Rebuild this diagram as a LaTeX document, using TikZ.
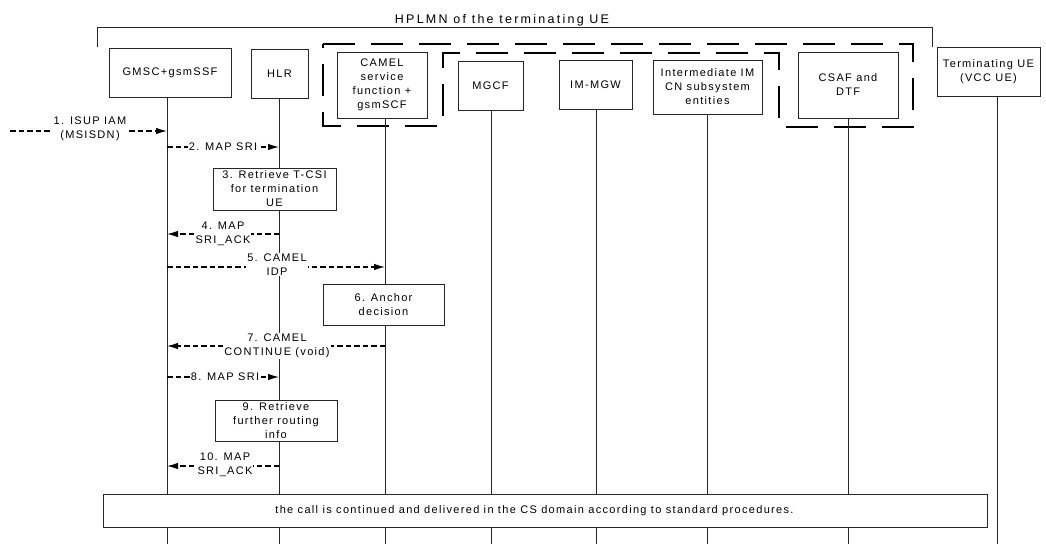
\documentclass[tikz,border=0pt]{standalone}
\usepackage{fontspec}
\setmainfont{Liberation Sans}[LetterSpace=12]
\newfontfamily\hplmnfont{Liberation Sans}[LetterSpace=18]
\usetikzlibrary{arrows.meta}
\begin{document}
\begin{tikzpicture}[x=1pt,y=-1pt,
  every node/.style={font=\fontsize{11}{14}\selectfont, text=black},
  ent/.style={draw=black!85, line width=0.8pt, fill=white, align=center, inner sep=0pt},
  life/.style={draw=black!85, line width=0.8pt},
  msg/.style={draw=black, line width=1.1pt, dash pattern=on 5.5pt off 3pt, -{Latex[length=11pt,width=6.5pt]}},
  lab/.style={fill=white, inner sep=1pt, align=center},
  grp/.style={draw=black, line width=2.7pt, dash pattern=on 32pt off 16pt}]
\useasboundingbox (0,0) rectangle (1046,544);

% lifeline ends
\coordinate (gL) at (167,544);
\coordinate (hL) at (279,544);
\coordinate (cL) at (385,544);
\coordinate (mL) at (491,544);
\coordinate (iL) at (596,544);
\coordinate (nL) at (707,544);
\coordinate (sL) at (848,544);
\coordinate (uL) at (997,544);

% HPLMN bracket
\draw[life] (97,47) -- (97,27.5) -- (932,27.5) -- (932,47);
\node[anchor=base, font=\hplmnfont\fontsize{12.5}{14}\selectfont] (hp) at (502,23) {HPLMN of the terminating UE};

% dashed group outline
\draw[grp] (323,44) -- (913,44) -- (913,127) -- (779,127) -- (779,53) -- (443,53) -- (443,126) -- (323,126) -- cycle;

% entity boxes
\node[ent, minimum width=122pt, minimum height=49pt] (gmsc) at (170,72.5) {GMSC+gsmSSF};
\node[ent, minimum width=57pt, minimum height=49pt] (hlr) at (279.5,73.5) {HLR};
\node[ent, minimum width=90pt, minimum height=66pt] (camel) at (382,85) {CAMEL\\service\\function +\\gsmSCF};
\node[ent, minimum width=65pt, minimum height=49pt] (mgcf) at (490.5,85.5) {MGCF};
\node[ent, minimum width=73pt, minimum height=49pt] (imgw) at (595.5,84.5) {IM-MGW};
\node[ent, minimum width=109pt, minimum height=54pt] (inter) at (707.5,87) {Intermediate IM\\CN subsystem\\entities};
\node[ent, minimum width=100pt, minimum height=66pt] (csaf) at (848,85) {CSAF and\\DTF};
\node[ent, minimum width=103pt, minimum height=49pt] (ue) at (988.5,71.5) {Terminating UE\\(VCC UE)};

% lifelines
\draw[life] (gmsc.south -| gL) -- (gL);
\draw[life] (hlr.south -| hL) -- (hL);
\draw[life] (camel.south -| cL) -- (cL);
\draw[life] (mgcf.south -| mL) -- (mL);
\draw[life] (imgw.south -| iL) -- (iL);
\draw[life] (inter.south -| nL) -- (nL);
\draw[life] (csaf.south -| sL) -- (sL);
\draw[life] (ue.south -| uL) -- (uL);

% action boxes
\node[ent, minimum width=123pt, minimum height=42pt] (b3) at (274.5,189) {3. Retrieve T-CSI\\for termination\\UE};
\node[ent, minimum width=121pt, minimum height=41pt] (b6) at (383.5,304.5) {6. Anchor\\decision};
\node[ent, minimum width=122pt, minimum height=41pt] (b9) at (276,420.5) {9. Retrieve\\further routing\\info};
\node[ent, minimum width=884pt, minimum height=33pt] (fin) at (545,510.5) {the call is continued and delivered in the CS domain according to standard procedures.\kern21pt};

% messages
\coordinate (m1src) at (10,131);
\draw[msg] (m1src) -- (m1src -| gL);
\draw[msg] (gL |- 0,147) -- (hL |- 0,147);
\draw[msg] (hL |- 0,234) -- (gL |- 0,234);
\draw[msg] (gL |- 0,267) -- (cL |- 0,267);
\draw[msg] (cL |- 0,346) -- (gL |- 0,346);
\draw[msg] (gL |- 0,377) -- (hL |- 0,377);
\draw[msg] (hL |- 0,466) -- (gL |- 0,466);

% message labels
\node[lab] (l1) at (90,129) {1. ISUP IAM\\(MSISDN)};
\node[lab] (l2) at (223,147) {2. MAP SRI};
\node[lab] (l4) at (223,233.5) {4. MAP\\SRI\_ACK};
\node[lab] (l5) at (277,264.5) {5. CAMEL\\IDP};
\node[lab] (l7) at (277,346) {7. CAMEL\\CONTINUE (void)};
\node[lab] (l8) at (225,377) {8. MAP SRI};
\node[lab] (l10) at (225,464.5) {10. MAP\\SRI\_ACK};
\end{tikzpicture}
\end{document}
